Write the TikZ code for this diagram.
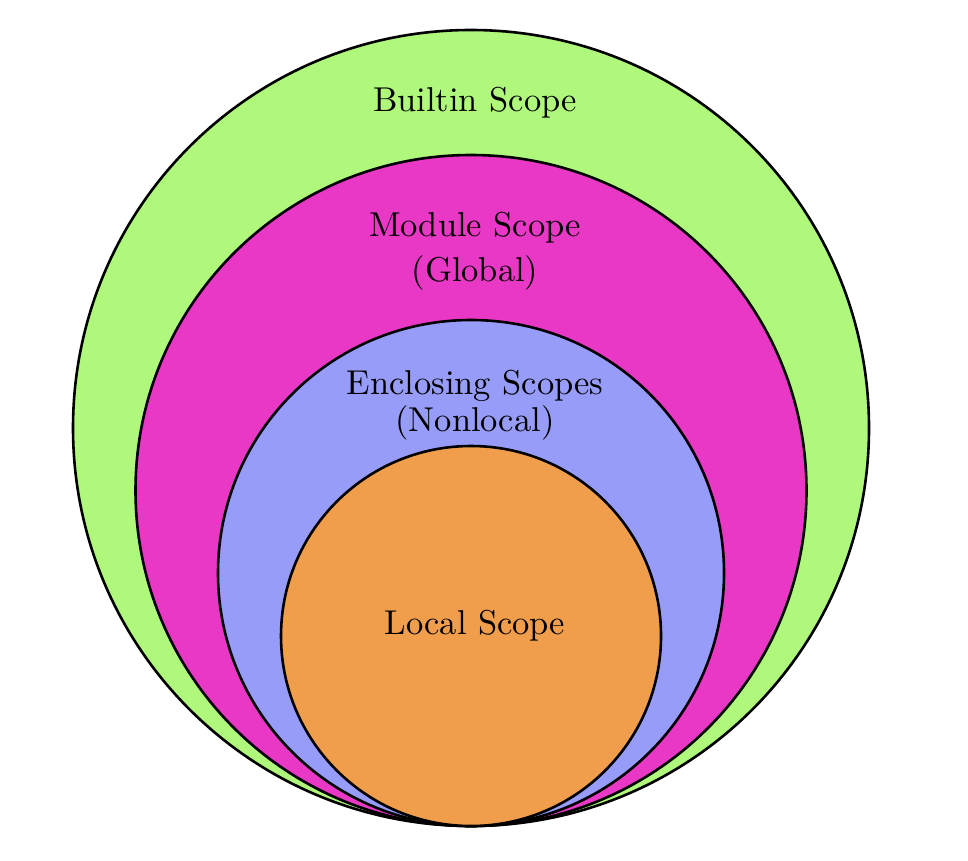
\documentclass[tikz,border=0pt]{standalone}
\usepackage{tikz}
\definecolor{cgreen}{HTML}{B0F87C}
\definecolor{cmag}{HTML}{E838C5}
\definecolor{cblue}{HTML}{979CF8}
\definecolor{corange}{HTML}{F19E4C}
\begin{document}
\begin{tikzpicture}[x=0.29pt,y=-0.29pt,
  ring/.style={draw=black,line width=0.75pt},
  lbl/.style={font=\normalsize,align=center,inner sep=0pt}]
\useasboundingbox (0,0) rectangle (968,860);
\fill[white] (0,0) rectangle (968,860);
\filldraw[ring,fill=cgreen] (471,428) circle[radius=398];
\filldraw[ring,fill=cmag] (471,490.5) circle[radius=335.5];
\filldraw[ring,fill=cblue] (471,573) circle[radius=253];
\filldraw[ring,fill=corange] (471,636) circle[radius=190];
\node[lbl] (builtin) at (475,103) {Builtin Scope};
\node[lbl] (module) at (475,251) {Module Scope\\[0.9pt](Global)};
\node[lbl] (encl) at (475,405) {Enclosing Scopes\\[-1.2pt](Nonlocal)};
\node[lbl] (local) at (475,626) {Local Scope};
\end{tikzpicture}
\end{document}
